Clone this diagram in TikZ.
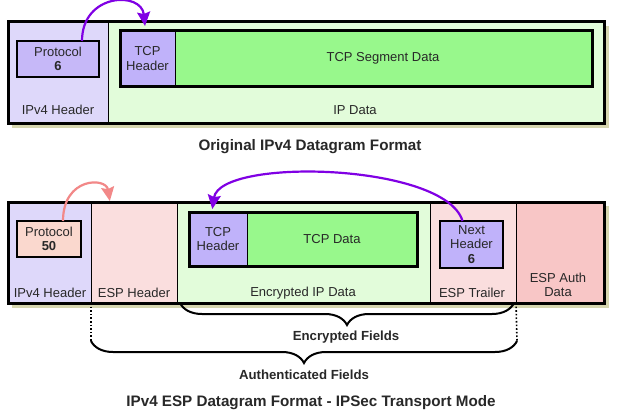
\documentclass[tikz,border=0pt]{standalone}
\usepackage{fontspec}
\setmainfont{Liberation Sans}
\usetikzlibrary{arrows.meta,decorations.pathreplacing,calc}
\definecolor{hdrc}{RGB}{222,216,250}
\definecolor{ipdc}{RGB}{226,252,218}
\definecolor{tcphc}{RGB}{192,178,250}
\definecolor{tcpdc}{RGB}{152,248,140}
\definecolor{protoc}{RGB}{198,184,248}
\definecolor{espc}{RGB}{250,222,222}
\definecolor{authc}{RGB}{248,198,198}
\definecolor{p50c}{RGB}{250,216,206}
\definecolor{shadowc}{RGB}{214,214,176}
\definecolor{purp}{RGB}{128,0,228}
\definecolor{pinkarr}{RGB}{242,136,136}
\definecolor{txt}{RGB}{40,40,40}
\newcommand\rbox[6]{\node[region,#6,minimum width={(#4)-(#2)},minimum height={(#5)-(#3)}] (#1) at ({((#2)+(#4))/2},{((#3)+(#5))/2}) {};}
\begin{document}
\begin{tikzpicture}[x=1pt,y=-1pt,
  region/.style={rectangle,inner sep=0pt,outer sep=0pt},
  border/.style={draw=black,line width=3pt},
  sbox/.style={draw=black,line width=1.8pt},
  sep/.style={draw=black,line width=0.8pt},
  lbl/.style={font=\fontsize{13}{14.5}\selectfont,text=txt,align=center,inner sep=0pt},
  ttl/.style={font=\fontsize{15.2}{17}\selectfont\bfseries,text=txt,inner sep=0pt},
  btxt/.style={font=\fontsize{13.2}{15}\selectfont\bfseries,text=txt,inner sep=0pt},
  parrow/.style={draw=purp,line width=2.2pt,-{Stealth[length=14pt,width=13pt,inset=2pt]}},
  karrow/.style={draw=pinkarr,line width=2.2pt,-{Stealth[length=14pt,width=13pt,inset=2pt]}},
  brc/.style={draw=black,line width=2pt,decorate,decoration={brace,mirror,amplitude=22pt}},
  dotl/.style={draw=black,line width=1.6pt,dotted}]
\useasboundingbox (0,0) rectangle (626,420);
\fill[white] (0,0) rectangle (626,420);
% ---------- original datagram ----------
\rbox{origsh}{12}{26}{609}{128}{fill=shadowc}
\rbox{ipv4a}{8}{22}{108}{123}{fill=hdrc}
\rbox{ipdata}{108}{22}{604}{123}{fill=ipdc}
\draw[sep] (ipv4a.north east) -- (ipv4a.south east);
\rbox{orig}{8}{22}{604}{123}{border}
\rbox{proto6}{17}{41}{99}{77}{fill=protoc,sbox}
\rbox{tcph6}{120}{31}{175}{86}{fill=tcphc}
\rbox{tcpd6}{175}{31}{592}{86}{fill=tcpdc}
\draw[sep] (tcph6.north east) -- (tcph6.south east);
\rbox{tcp6}{120}{31}{592}{86}{border}
\node[lbl] (tproto6) at (proto6.center) {Protocol\\\textbf{6}};
\node[lbl] (ttcph6) at (tcph6.center) {TCP\\Header};
\node[lbl] (ttcpd6) at (383,58) {TCP Segment Data};
\node[lbl] (tipv4a) at (58,110) {IPv4 Header};
\node[lbl] (tipdata) at (355,110) {IP Data};
\draw[parrow,shorten >=5pt] ($(proto6.north)+(24,0)$) .. controls +(0,-48) and +(-4,-40) .. ($(tcph6.north)+(-2,0)$);
\node[ttl] (title1) at (310,147) {Original IPv4 Datagram Format};
% ---------- ESP datagram ----------
\rbox{espsh}{12}{206}{609}{308}{fill=shadowc}
\rbox{ipv4b}{8}{202}{91}{303}{fill=hdrc}
\rbox{esphdr}{91}{202}{177}{303}{fill=espc}
\rbox{encdata}{177}{202}{430}{303}{fill=ipdc}
\rbox{esptr}{430}{202}{516}{303}{fill=espc}
\rbox{espauth}{516}{202}{604}{303}{fill=authc}
\draw[sep] (esphdr.north west) -- (esphdr.south west);
\draw[sep] (encdata.north west) -- (encdata.south west);
\draw[sep] (esptr.north west) -- (esptr.south west);
\draw[sep] (espauth.north west) -- (espauth.south west);
\rbox{esp}{8}{202}{604}{303}{border}
\rbox{proto50}{17}{221}{81}{257}{fill=p50c,sbox}
\rbox{tcph50}{189}{212}{247}{266}{fill=tcphc}
\rbox{tcpd50}{247}{212}{417}{266}{fill=tcpdc}
\draw[sep] (tcph50.north east) -- (tcph50.south east);
\rbox{tcp50}{189}{212}{417}{266}{border}
\rbox{nexth}{440}{221}{503}{268}{fill=tcphc,sbox}
\node[lbl] (tproto50) at (proto50.center) {Protocol\\\textbf{50}};
\node[lbl] (ttcph50) at (tcph50.center) {TCP\\Header};
\node[lbl] (ttcpd50) at (332,239) {TCP Data};
\node[lbl] (tnexth) at (nexth.center) {Next\\Header\\\textbf{6}};
\node[lbl] (tipv4b) at (50,293) {IPv4 Header};
\node[lbl] (tesphdr) at (134,293) {ESP Header};
\node[lbl] (tencdata) at (303,293) {Encrypted IP Data};
\node[lbl] (tesptr) at (472,293) {ESP Trailer};
\node[lbl] (tespauth) at (558,285) {ESP Auth\\Data};
\draw[karrow,shorten >=1pt] ($(proto50.north)+(14,0)$) .. controls +(0,-44) and +(-4,-25) .. ($(esphdr.north)+(-24,0)$);
\draw[parrow,shorten >=2pt] ($(nexth.north)+(-9,0)$) .. controls +(-17,-58) and +(8,-54) .. ($(tcph50.north)+(-6,-1)$);
% ---------- braces ----------
\coordinate (authL) at (91,341);
\coordinate (authR) at (517,341);
\draw[dotl] (esphdr.south west) -- (authL);
\draw[dotl] (espauth.south west) -- (authR);
\draw[brc] ($(encdata.south west)+(3,0)$) -- ($(esptr.south east)+(-2,0)$);
\draw[brc] (authL) -- (authR);
\node[btxt] (encf) at (346,337) {Encrypted Fields};
\node[btxt] (authf) at (304,375) {Authenticated Fields};
\node[ttl] (title2) at (311,403) {IPv4 ESP Datagram Format - IPSec Transport Mode};
\end{tikzpicture}
\end{document}
